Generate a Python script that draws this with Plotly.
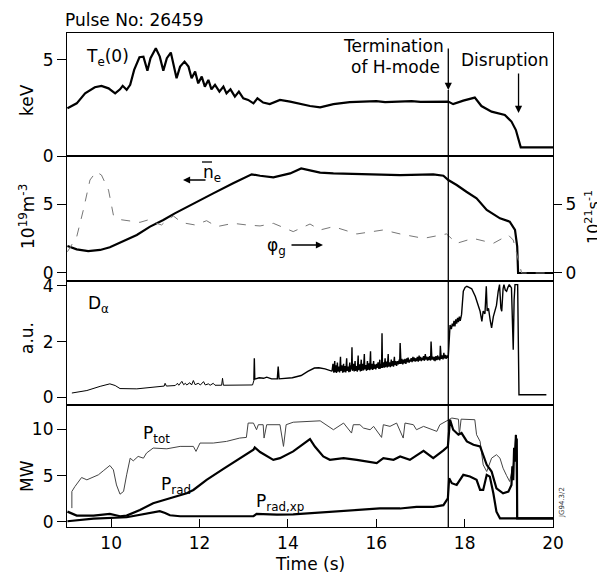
import plotly.graph_objects as go

# ---------------- data ----------------
te_t = [9.01, 9.22, 9.41, 9.63, 9.78, 9.94, 10.09, 10.20, 10.26, 10.35, 10.43, 10.52, 10.64, 10.73,
        10.82, 10.89, 11.01, 11.10, 11.18, 11.26, 11.35, 11.48, 11.56, 11.66, 11.75, 11.82, 11.90,
        11.97, 12.05, 12.12, 12.20, 12.27, 12.35, 12.45, 12.54, 12.61, 12.70, 12.80, 12.89, 12.99,
        13.10, 13.22, 13.31, 13.44, 13.59, 13.82, 14.05, 14.20, 14.50, 14.73, 15.03, 15.40, 15.78,
        16.00, 16.20, 16.54, 16.80, 17.00, 17.29, 17.63, 17.74, 17.97, 18.23, 18.38, 18.61, 18.91,
        19.06, 19.16, 19.27, 20.0]
te_v = [2.48, 2.74, 3.26, 3.58, 3.65, 3.52, 3.26, 3.47, 3.65, 3.44, 3.70, 4.48, 5.14, 5.17,
        4.44, 5.09, 5.61, 5.17, 4.44, 5.09, 5.38, 4.05, 4.65, 4.91, 4.65, 4.05, 4.39,
        3.78, 4.13, 3.61, 3.96, 3.47, 3.70, 3.35, 3.61, 3.26, 3.47, 3.09, 3.35, 3.00,
        2.92, 2.74, 3.00, 2.78, 2.70, 2.92, 2.83, 2.74, 2.60, 2.53, 2.70, 2.80, 2.83,
        2.86, 2.80, 2.83, 2.86, 2.82, 2.83, 2.83, 2.70, 2.88, 3.04, 2.60, 2.31, 2.14,
        1.79, 1.35, 0.45, 0.45]

ne_t = [9.01, 9.22, 9.48, 9.75, 9.97, 10.24, 10.58, 10.88, 11.18, 11.44, 11.86, 12.31, 12.76,
        13.18, 13.37, 13.67, 14.05, 14.30, 14.55, 14.73, 15.03, 15.78, 16.54, 17.29, 17.52, 17.63,
        17.82, 18.04, 18.27, 18.50, 18.80, 19.02, 19.14, 19.19, 19.21, 20.0]
ne_v = [1.96, 1.71, 1.59, 1.67, 1.86, 2.27, 2.75, 3.36, 3.84, 4.32, 5.05, 5.77, 6.50,
        7.15, 7.05, 6.93, 7.22, 7.58, 7.40, 7.27, 7.22, 7.15, 7.10, 7.15, 7.05, 6.74,
        6.38, 5.89, 5.41, 4.57, 3.96, 3.72, 3.12, 1.91, 0.0, 0.0]

phi_t = [9.01, 9.22, 9.37, 9.52, 9.66, 9.78, 9.94, 10.05, 10.16, 10.43, 10.65, 10.88, 11.03,
         11.14, 11.26, 11.41, 11.60, 11.90, 12.16, 12.39, 12.76, 13.07, 13.37, 13.67, 14.12,
         14.50, 14.73, 15.03, 15.56, 16.16, 16.54, 17.07, 17.59, 17.82, 18.19, 18.65, 18.99,
         19.10, 19.29, 20.0]
phi_v = [1.54, 2.63, 4.57, 6.74, 7.34, 7.10, 6.01, 4.20, 3.89, 3.79, 3.67, 3.89, 3.60,
         3.48, 3.84, 4.13, 3.65, 3.48, 3.79, 3.36, 3.60, 3.48, 3.41, 3.60, 3.00,
         3.55, 3.12, 3.36, 2.83, 3.12, 2.83, 2.51, 2.83, 2.15, 2.51, 2.15, 2.75,
         2.39, 0.0, 0.0]

da1_t = [9.11, 9.45, 9.75, 9.97, 10.09, 10.20, 10.58, 11.10, 11.20, 11.22, 11.25, 11.45, 11.50,
         11.53, 11.60, 11.64, 11.68, 11.71, 11.78, 11.82, 11.86, 11.90, 11.97, 12.02, 12.09,
         12.13, 12.20, 12.24, 12.31, 12.35, 12.50, 12.52, 12.54, 13.20, 13.23]
da1_v = [0.15, 0.24, 0.39, 0.48, 0.42, 0.31, 0.30, 0.38, 0.40, 0.50, 0.40, 0.42, 0.50,
         0.43, 0.57, 0.45, 0.50, 0.44, 0.52, 0.44, 0.60, 0.45, 0.50, 0.44, 0.56,
         0.44, 0.48, 0.43, 0.50, 0.43, 0.43, 0.68, 0.43, 0.44, 0.60]

da2_t = [13.23, 13.24, 13.25, 13.35, 13.45, 13.52, 13.63, 13.76, 13.78, 13.80, 14.10, 14.30,
         14.45, 14.60, 14.70, 14.84, 14.99,
         15.00, 15.02, 15.04, 15.06, 15.07, 15.09, 15.10, 15.12, 15.13, 15.15, 15.17, 15.19,
         15.20, 15.22, 15.24, 15.26, 15.27, 15.29, 15.31, 15.33, 15.34, 15.36, 15.38, 15.40,
         15.41, 15.43, 15.44, 15.45, 15.46, 15.48, 15.50, 15.52, 15.53, 15.55, 15.57, 15.59,
         15.60, 15.62, 15.64, 15.66, 15.67, 15.69, 15.71, 15.73, 15.74, 15.76, 15.78, 15.80,
         15.81, 15.83, 15.85, 15.87, 15.88, 15.90, 15.92, 15.94, 15.95, 15.97, 15.99, 16.01,
         16.02, 16.04, 16.06, 16.08, 16.09, 16.11, 16.12, 16.13, 16.14, 16.16, 16.18, 16.20,
         16.21, 16.23, 16.25, 16.27, 16.28, 16.30, 16.32, 16.34, 16.35, 16.37, 16.39, 16.41,
         16.42, 16.44, 16.46, 16.48, 16.50, 16.52, 16.53, 16.54, 16.56, 16.58, 16.60, 16.62,
         16.63, 16.65, 16.67, 16.69, 16.70, 16.72, 16.74, 16.76, 16.77, 16.79, 16.81, 16.83,
         16.84, 16.86, 16.88, 16.90, 16.91, 16.93, 16.95, 16.97, 16.98, 17.00, 17.02, 17.04,
         17.05, 17.07, 17.09, 17.11, 17.12, 17.14, 17.16, 17.18, 17.19, 17.21, 17.23, 17.24,
         17.26, 17.28, 17.30, 17.32, 17.33, 17.35, 17.37, 17.39, 17.40, 17.42, 17.44, 17.45,
         17.47, 17.49, 17.51, 17.53, 17.54, 17.56, 17.58, 17.60, 17.61,
         17.63, 17.65, 17.67, 17.70, 17.72, 17.74, 17.76, 17.78, 17.80, 17.82, 17.84, 17.86,
         17.88, 17.90, 17.93, 17.95, 17.97, 18.01,
         18.05, 18.10, 18.16, 18.24, 18.30, 18.35, 18.39, 18.42, 18.46, 18.49, 18.51, 18.54,
         18.58, 18.61, 18.65, 18.69, 18.72, 18.76, 18.79, 18.82, 18.84, 18.87, 18.89, 18.92,
         18.95, 18.98, 19.01, 19.06, 19.08, 19.10, 19.12, 19.14, 19.20, 19.23, 19.85]
da2_v = [0.60, 1.40, 0.65, 0.70, 0.68, 0.72, 0.66, 0.66, 1.10, 0.66, 0.70, 0.78,
         0.93, 1.05, 1.06, 1.02, 0.94,
         0.95, 1.20, 0.88, 1.30, 0.90, 1.15, 0.87, 1.25, 0.92, 1.10, 0.89, 1.45,
         0.95, 1.15, 0.88, 1.20, 0.90, 1.12, 0.89, 1.40, 0.95, 1.10, 0.90, 1.25,
         0.92, 1.15, 1.00, 1.80, 0.95, 1.20, 0.93, 1.30, 0.95, 1.12, 0.92, 1.50,
         0.97, 1.18, 0.93, 1.35, 0.95, 1.20, 0.96, 1.55, 1.00, 1.15, 0.95, 1.30,
         0.98, 1.22, 0.97, 1.65, 1.00, 1.20, 0.98, 1.30, 1.02, 1.18, 1.00, 1.20,
         1.05, 1.25, 1.02, 1.35, 1.03, 1.20, 1.05, 2.30, 1.05, 1.25, 1.06, 1.40,
         1.08, 1.28, 1.07, 1.55, 1.10, 1.25, 1.08, 1.35, 1.12, 1.30, 1.10, 1.45,
         1.15, 1.30, 1.13, 1.30, 1.18, 1.35, 1.20, 1.95, 1.20, 1.38, 1.18, 1.35,
         1.22, 1.38, 1.20, 1.40, 1.25, 1.42, 1.24, 1.35, 1.28, 1.40, 1.26, 1.45,
         1.30, 1.42, 1.28, 1.40, 1.30, 1.45, 1.28, 1.50, 1.32, 1.45, 1.30, 1.42,
         1.33, 1.48, 1.31, 1.55, 1.35, 1.46, 1.32, 1.45, 1.33, 1.48, 1.32, 2.00,
         1.35, 1.46, 1.33, 1.45, 1.30, 1.48, 1.33, 1.50, 1.35, 1.46, 1.33, 1.85,
         1.38, 1.50, 1.36, 1.60, 1.40, 1.52, 1.38, 1.50, 1.42,
         1.45, 2.30, 2.60, 2.45, 2.65, 2.55, 2.75, 2.55, 2.80, 2.65, 2.85, 2.70,
         2.90, 2.75, 2.97, 3.40, 3.81, 3.95,
         3.99, 3.95, 3.90, 3.63, 3.35, 3.09, 2.73, 3.10, 3.00, 3.99, 3.10, 3.20,
         2.75, 2.49, 2.90, 3.09, 3.30, 3.81, 4.05, 3.20, 3.09, 3.90, 4.05, 3.85,
         3.81, 3.95, 4.05, 3.93, 2.80, 1.71, 3.50, 4.05, 4.05, 0.09, 0.09]

ptot_t = [9.11, 9.11, 9.18, 9.33, 9.45, 9.60, 9.71, 9.82, 9.97, 10.05, 10.12, 10.20, 10.28,
          10.35, 10.43, 10.50, 10.61, 10.73, 10.80, 10.95, 11.26, 11.56, 11.86, 11.92, 12.01,
          12.31, 12.61, 12.91, 13.06, 13.10, 13.22, 13.29, 13.33, 13.44, 13.46, 13.52, 13.82,
          13.90, 13.96, 14.12, 14.73, 15.03, 15.26, 15.44, 15.48, 15.63, 15.71, 15.86, 15.94,
          16.12, 16.16, 16.31, 16.46, 16.61, 16.65, 16.84, 16.91, 17.07, 17.37, 17.44, 17.59,
          17.63, 17.71, 17.86, 17.88, 17.92, 18.23, 18.27, 18.35, 18.42, 18.50, 18.61, 18.72,
          18.80, 18.87, 18.95, 19.02, 19.10, 19.16, 19.18, 20.0]
ptot_v = [1.5, 3.3, 3.83, 4.80, 4.55, 4.91, 5.09, 5.52, 6.10, 5.63, 4.00, 3.00, 3.30,
          5.09, 6.89, 6.60, 7.08, 6.89, 7.44, 7.98, 7.90, 8.16, 8.16, 7.62, 8.52,
          8.52, 8.70, 9.06, 9.13, 10.68, 10.68, 9.96, 10.50, 10.50, 9.06, 10.50, 10.50,
          8.16, 10.50, 10.77, 10.92, 9.96, 10.68, 9.60, 10.50, 10.50, 10.14, 9.96, 10.32,
          9.13, 10.50, 10.32, 10.68, 9.06, 10.68, 10.50, 9.96, 10.32, 9.78, 10.50, 10.86,
          11.04, 11.22, 11.10, 9.42, 11.10, 11.04, 9.42, 8.70, 6.17, 5.45, 6.89, 7.26,
          6.89, 5.81, 5.00, 4.37, 6.17, 9.42, 0.40, 0.40]

prad_t = [9.01, 9.22, 9.60, 9.97, 10.20, 10.35, 10.65, 10.95, 11.33, 11.71, 11.86, 12.16, 12.54,
          12.91, 13.22, 13.25, 13.37, 13.67, 13.82, 14.12, 14.42, 14.50, 14.61, 14.80, 14.95,
          15.26, 15.56, 15.78, 16.01, 16.16, 16.39, 16.54, 16.76, 17.07, 17.29, 17.52, 17.62,
          17.67, 17.74, 17.86, 17.93, 18.05, 18.20, 18.35, 18.42, 18.50, 18.61, 18.72, 18.87,
          18.99, 19.06, 19.08, 19.10, 19.12, 19.14, 19.16, 19.17, 19.18, 19.19, 20.0]
prad_v = [1.12, 0.69, 0.69, 0.87, 0.62, 0.69, 1.30, 2.02, 2.56, 3.10, 3.46, 4.55, 5.74,
          6.89, 7.80, 8.05, 7.55, 6.71, 6.89, 7.62, 8.70, 8.95, 8.15, 7.07, 6.71,
          6.89, 6.71, 6.54, 6.35, 6.89, 6.71, 7.07, 6.71, 7.69, 6.89, 7.73, 8.15,
          11.04, 9.96, 9.42, 9.60, 8.70, 8.34, 8.15, 7.26, 6.17, 5.45, 3.64, 3.10,
          3.28, 4.00, 6.00, 4.50, 8.00, 6.50, 9.40, 7.50, 9.00, 0.40, 0.40]

pxp_t = [9.01, 9.60, 10.35, 10.73, 11.10, 11.22, 11.33, 11.56, 12.61, 13.22, 13.29, 13.75,
         14.12, 14.73, 15.03, 15.78, 16.08, 16.54, 16.91, 17.29, 17.52, 17.62, 17.65, 17.71,
         17.82, 17.97, 18.12, 18.27, 18.35, 18.42, 18.50, 18.57, 18.65, 18.72, 18.80, 20.0]
pxp_v = [0.08, 0.37, 0.51, 0.87, 1.16, 0.98, 0.73, 0.62, 0.62, 0.62, 0.87, 0.80,
         0.83, 1.05, 1.11, 1.40, 1.46, 1.46, 1.64, 1.64, 1.82, 2.54, 4.72, 4.19,
         4.00, 5.09, 4.91, 4.55, 3.46, 3.46, 5.09, 4.90, 3.10, 1.11, 0.40, 0.40]

x_ticks = [10, 12, 14, 16, 18, 20]
t_termination = 17.63
t_disruption = 19.22

# ---------------- figure ----------------
FONT = "DejaVu Sans, Arial, sans-serif"
FS = 17
OFF = 8                        # default body margin of the html page
W, H = 605, 575
L, R, T, B = 67, 553, 33, 527  # plot area in page pixels


def P(px, py):
    return dict(x=(px - L) / (R - L), y=(B - py) / (B - T), xref="paper", yref="paper")


thick = dict(color="black", width=2.2)
fig = go.Figure()
fig.add_trace(go.Scatter(x=te_t, y=te_v, mode="lines", line=thick, xaxis="x", yaxis="y"))
fig.add_trace(go.Scatter(x=ne_t, y=ne_v, mode="lines", line=thick, xaxis="x2", yaxis="y2"))
fig.add_trace(go.Scatter(x=phi_t, y=phi_v, mode="lines",
                         line=dict(color="#777", width=1, dash="dash"), xaxis="x2", yaxis="y5"))
fig.add_trace(go.Scatter(x=da1_t, y=da1_v, mode="lines", line=dict(color="black", width=1),
                         xaxis="x3", yaxis="y3"))
fig.add_trace(go.Scatter(x=da2_t, y=da2_v, mode="lines", line=dict(color="black", width=1.4),
                         xaxis="x3", yaxis="y3"))
fig.add_trace(go.Scatter(x=ptot_t, y=ptot_v, mode="lines", line=dict(color="#444", width=1),
                         xaxis="x4", yaxis="y4"))
fig.add_trace(go.Scatter(x=prad_t, y=prad_v, mode="lines", line=thick, xaxis="x4", yaxis="y4"))
fig.add_trace(go.Scatter(x=pxp_t, y=pxp_v, mode="lines", line=thick, xaxis="x4", yaxis="y4"))

frame = dict(showline=True, linecolor="black", linewidth=1.2, mirror=True,
             showgrid=False, zeroline=False)
tickfont = dict(family=FONT, size=FS, color="black")


def xax(anchor, bottom=False):
    d = dict(frame, domain=[0, 1], range=[9, 20], anchor=anchor, tickfont=tickfont)
    if bottom:
        d.update(tickvals=x_ticks, ticks="inside", ticklen=8, tickwidth=1.2,
                 tickcolor="black", showticklabels=True)
    else:
        d.update(ticks="", showticklabels=False)
    return d


def yax(domain, rng, tv, anchor):
    return dict(frame, domain=domain, range=rng, tickvals=tv, ticks="outside", ticklen=9,
                tickwidth=1.2, tickcolor="black", anchor=anchor, tickfont=tickfont)


fig.update_layout(
    width=W - OFF, height=H - OFF,
    margin=dict(l=L - OFF, r=W - R, t=T - OFF, b=H - B),
    paper_bgcolor="white", plot_bgcolor="white",
    showlegend=False,
    font=dict(family=FONT, size=FS, color="black"),
    xaxis=xax("y"), xaxis2=xax("y2"), xaxis3=xax("y3"), xaxis4=xax("y4", bottom=True),
    yaxis=yax([0.751, 1.0], [0, 6.4], [0, 5], "x"),
    yaxis2=yax([0.498, 0.751], [-0.58, 8.48], [0, 5], "x2"),
    yaxis3=yax([0.247, 0.498], [-0.28, 4.18], [0, 2, 4], "x3"),
    yaxis4=yax([0.0, 0.247], [-0.54, 12.63], [0, 5, 10], "x4"),
    yaxis5=dict(overlaying="y2", side="right", range=[-0.58, 8.48], tickvals=[0, 5],
                ticks="outside", ticklen=8, tickwidth=1.2, tickcolor="black",
                showline=False, showgrid=False, zeroline=False, anchor="x2",
                tickfont=tickfont),
)

# termination vertical line through all panels
fig.add_shape(type="line", xref="x", yref="paper", x0=t_termination, x1=t_termination,
              y0=0, y1=(B - 90) / (B - T), line=dict(color="black", width=1.3))

ann = []


def text(px, py, s, size=FS, xanchor="center", angle=0, color="black"):
    a = P(px, py)
    a.update(text=s, showarrow=False, xanchor=xanchor, yanchor="middle", textangle=angle,
             font=dict(family=FONT, size=size, color=color))
    ann.append(a)


text(63, 20, "Pulse No: 26459", xanchor="left")
text(310, 564, "Time (s)")
text(27, 100, "keV", angle=-90)
text(27, 217, "10<sup>19</sup>m<sup>-3</sup>", angle=-90)
text(27, 338, "a.u.", angle=-90)
text(27, 476, "MW", angle=-90)
text(593, 217, "10<sup>21</sup>s<sup>-1</sup>", size=16, angle=-90)
text(84, 58, "T<sub>e</sub>(0)", xanchor="left")
text(393, 46, "Termination")
text(395, 67, "of H-mode")
text(505, 60, "Disruption")
text(201, 173, "n<sub>e</sub>", xanchor="left")
text(265, 246, "φ<sub>g</sub>", xanchor="left")
text(86, 304, "D<sub>α</sub>", xanchor="left")
text(141, 434, "P<sub>tot</sub>", xanchor="left")
text(159, 485, "P<sub>rad</sub>", xanchor="left")
text(254, 502, "P<sub>rad,xp</sub>", xanchor="left")
text(562, 503, "JG94.3/2", size=7, angle=-90, color="#333")

# overbar of n_e
fig.add_shape(type="line", xref="paper", yref="paper",
              x0=(202 - L) / (R - L), x1=(212 - L) / (R - L),
              y0=(B - 162) / (B - T), y1=(B - 162) / (B - T),
              line=dict(color="black", width=1.3))


def arrow(x, py_tip, ax, ay, xref="x"):
    ann.append(dict(x=x, y=(B - py_tip) / (B - T), xref=xref, yref="paper", text="",
                    showarrow=True, arrowhead=2, arrowsize=1.1, arrowwidth=1.3,
                    arrowcolor="black", ax=ax, ay=ay))


arrow(t_termination, 90, 0, -43)
arrow(t_disruption, 113, 0, -41)
arrow((183 - L) / (R - L), 180, 24, 0, xref="paper")
arrow((323 - L) / (R - L), 245, -33, 0, xref="paper")

fig.update_layout(annotations=ann)
fig.write_html("out.html")
